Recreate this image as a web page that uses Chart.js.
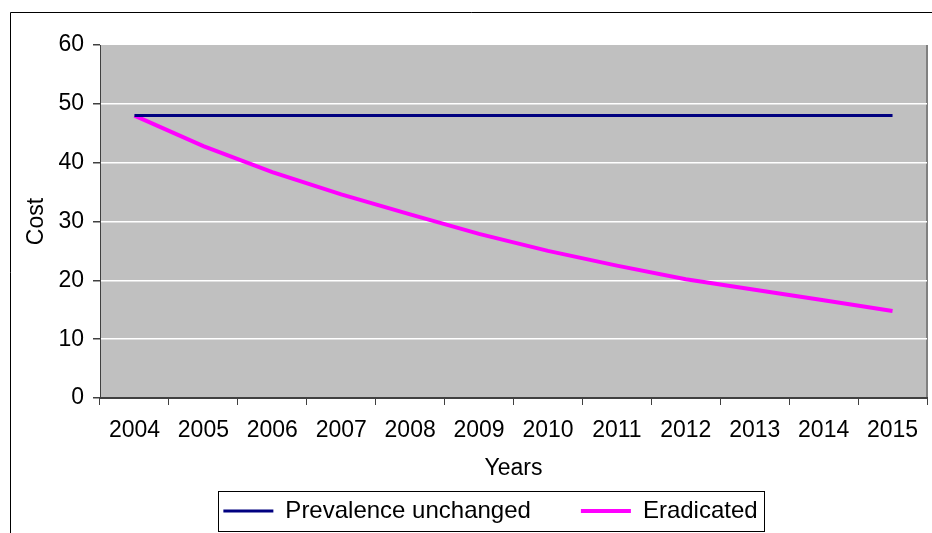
<!DOCTYPE html>
<html>
<head>
<meta charset="utf-8">
<script src="https://cdn.jsdelivr.net/npm/chart.js@4/dist/chart.umd.min.js"></script>
<style>
  html, body { margin: 0; padding: 0; background: #fff; }
  #wrap { width: 932px; height: 533px; }
</style>
</head>
<body>
<div id="wrap"><canvas id="costChart" width="932" height="533"></canvas></div>
<script>
const years = ['2004', '2005', '2006', '2007', '2008', '2009', '2010', '2011', '2012', '2013', '2014', '2015'];
const unchanged = [48, 48, 48, 48, 48, 48, 48, 48, 48, 48, 48, 48];
const eradicated = [48, 42.8, 38.4, 34.6, 31.2, 27.9, 25.0, 22.5, 20.2, 18.4, 16.6, 14.8];
const yTicks = [0, 10, 20, 30, 40, 50, 60];

const font = { family: 'Liberation Sans, Arial, sans-serif', size: 23 };
const legendFont = { family: 'Liberation Sans, Arial, sans-serif', size: 24 };

// grey plot area, outer frame, legend box
const decor = {
    id: 'decor',
    beforeDraw(chart) {
        const c = chart.ctx, a = chart.chartArea;
        c.save();
        c.fillStyle = '#ffffff';
        c.fillRect(0, 0, chart.width, chart.height);
        c.fillStyle = '#c0c0c0';
        c.fillRect(a.left, a.top, a.right - a.left, a.bottom - a.top);
        c.strokeStyle = '#808080';
        c.lineWidth = 2;
        c.beginPath();
        c.moveTo(a.right, a.top);
        c.lineTo(a.right, a.bottom);
        c.stroke();
        c.strokeStyle = '#000';
        c.lineWidth = 1;
        c.beginPath();
        c.moveTo(10.5, chart.height);
        c.lineTo(10.5, 12.5);
        c.lineTo(chart.width, 12.5);
        c.stroke();
        c.restore();
    },
    afterLayout(chart) {
        chart.legend.left += 17;
        chart.legend.right += 17;
    },
    afterDraw(chart) {
        const hb = chart.legend.legendHitBoxes;
        if (!hb || !hb.length) return;
        const first = hb[0], last = hb[hb.length - 1];
        const c = chart.ctx;
        const cy = first.top + first.height / 2;
        c.save();
        c.strokeStyle = '#000';
        c.lineWidth = 1;
        c.strokeRect(Math.round(first.left - 5) + 0.5, Math.round(cy - 20) + 0.5,
            Math.round(last.left + last.width + 7 - (first.left - 5)), 40);
        c.restore();
    }
};

const ctx = document.getElementById('costChart').getContext('2d');
const costChart = new Chart(ctx, {
    type: 'line',
    data: {
        labels: years,
        datasets: [{
            label: 'Prevalence unchanged      ',
            data: unchanged,
            borderColor: '#000080',
            backgroundColor: '#000080',
            borderWidth: 3,
            pointRadius: 0,
            tension: 0
        }, {
            label: 'Eradicated',
            data: eradicated,
            borderColor: '#ff00ff',
            backgroundColor: '#ff00ff',
            borderWidth: 4,
            pointRadius: 0,
            tension: 0
        }]
    },
    options: {
        responsive: false,
        animation: false,
        layout: {
            padding: { left: 20, right: 5, top: 45, bottom: 0 }
        },
        scales: {
            x: {
                offset: true,
                grid: {
                    offset: true,
                    drawOnChartArea: false,
                    tickLength: 7,
                    color: '#404040'
                },
                border: { color: '#404040', width: 2 },
                ticks: { font: font, color: '#000', padding: 12, maxRotation: 0 },
                title: {
                    display: true,
                    text: 'Years',
                    font: font,
                    color: '#000',
                    padding: { top: 4, bottom: 7 }
                },
                afterFit(scale) { scale.height = 91; }
            },
            y: {
                min: 0,
                max: 60,
                afterBuildTicks(scale) { scale.ticks = yTicks.map(v => ({ value: v })); },
                grid: {
                    color: c => (c.tick && c.tick.value === 60) ? 'rgba(0,0,0,0)' : '#ffffff',
                    lineWidth: 1.5,
                    tickLength: 7,
                    tickColor: '#404040'
                },
                border: { color: '#404040', width: 1 },
                ticks: { font: font, color: '#000', padding: 9 },
                title: {
                    display: true,
                    text: 'Cost',
                    font: font,
                    color: '#000',
                    padding: { top: 3, bottom: 0 }
                },
                afterFit(scale) { scale.width = 80; }
            }
        },
        plugins: {
            legend: {
                position: 'bottom',
                labels: {
                    font: legendFont,
                    color: '#000',
                    usePointStyle: true,
                    pointStyle: 'line',
                    pointStyleWidth: 50,
                    padding: 10
                }
            },
            tooltip: { enabled: false }
        }
    },
    plugins: [decor]
});
</script>
</body>
</html>
